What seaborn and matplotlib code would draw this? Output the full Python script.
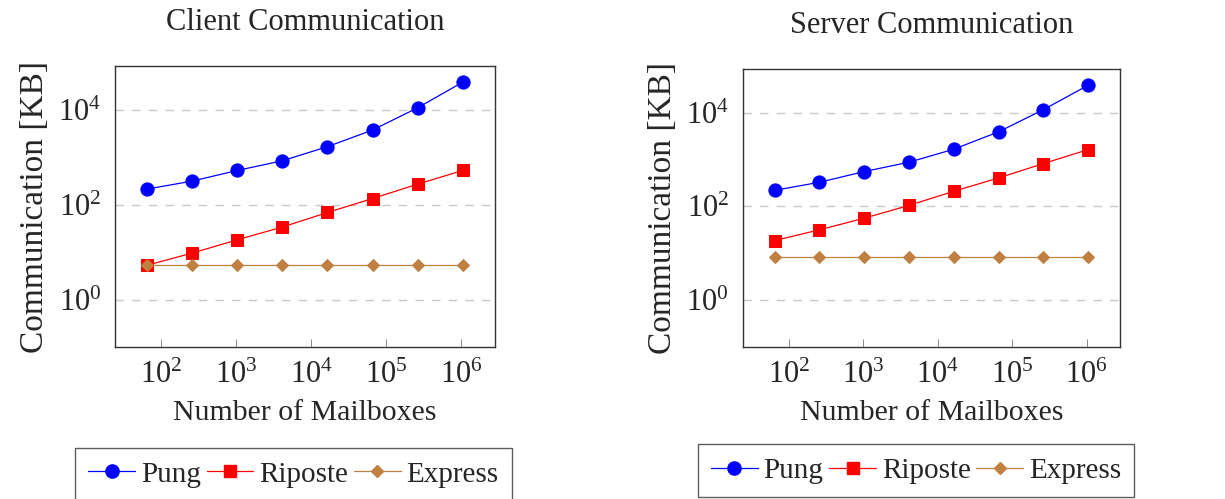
import numpy as np
import pandas as pd
import seaborn as sns
import matplotlib.pyplot as plt
from matplotlib.ticker import FixedLocator, LogFormatterMathtext, NullLocator
from matplotlib.lines import Line2D

# number of mailboxes (powers of 4)
mailboxes = [64, 256, 1024, 4096, 16384, 65536, 262144, 1048576]

# client side communication [KB]
client_pung = [215, 317, 532, 852, 1690, 3800, 11200, 39000]
client_riposte = [5.3, 9.6, 18.3, 34, 69, 136, 274, 532]
client_express = [5.3, 5.3, 5.3, 5.3, 5.3, 5.3, 5.3, 5.3]

# server side communication [KB]
server_pung = [220, 327, 553, 876, 1660, 3900, 11600, 38500]
server_riposte = [18.7, 31.6, 56, 105, 210, 405, 820, 1630]
server_express = [8.5, 8.5, 8.5, 8.5, 8.5, 8.5, 8.5, 8.5]

systems = ["Pung", "Riposte", "Express"]
titles = ["Client Communication", "Server Communication"]

sns.set_style("ticks")
plt.rcParams["font.family"] = ["Liberation Serif", "DejaVu Serif"]
plt.rcParams["mathtext.fontset"] = "stix"

colors = {"Pung": "#0000ff", "Riposte": "#ff0000", "Express": "#bf8040"}
markers = {"Pung": "o", "Riposte": "s", "Express": "D"}
msizes = {"Pung": 9.5, "Riposte": 8.5, "Express": 6.5}

fig = plt.figure(figsize=(12.25, 4.99), dpi=100)
ax1 = fig.add_axes([0.0939, 0.3046, 0.310, 0.563])
ax2 = fig.add_axes([0.6065, 0.3046, 0.3078, 0.557])

panels = [
    (ax1, [client_pung, client_riposte, client_express]),
    (ax2, [server_pung, server_riposte, server_express]),
]

fs = 21
for i, (ax, series) in enumerate(panels):
    rows = []
    for name, vals in zip(systems, series):
        for m, v in zip(mailboxes, vals):
            rows.append({"mailboxes": m, "kb": v, "system": name})
    df = pd.DataFrame(rows)
    for name in systems:
        sub = df[df["system"] == name]
        sns.lineplot(data=sub, x="mailboxes", y="kb", ax=ax, color=colors[name],
                     marker=markers[name], markersize=msizes[name],
                     markeredgecolor=colors[name], linewidth=0.9, legend=False)
    ax.set_xscale("log")
    ax.set_yscale("log")
    ax.set_xlim(24, 2.8e6)
    ax.set_ylim(0.1, 8.5e4)
    ax.xaxis.set_major_locator(FixedLocator([1e2, 1e3, 1e4, 1e5, 1e6]))
    ax.yaxis.set_major_locator(FixedLocator([1, 1e2, 1e4]))
    ax.xaxis.set_major_formatter(LogFormatterMathtext())
    ax.yaxis.set_major_formatter(LogFormatterMathtext())
    ax.xaxis.set_minor_locator(NullLocator())
    ax.yaxis.set_minor_locator(NullLocator())
    ax.tick_params(axis="x", direction="in", length=6, width=0.6, color="#777777",
                   labelsize=fs + 1, pad=10)
    ax.tick_params(axis="y", direction="in", length=0, labelsize=fs + 1, pad=10)
    ax.grid(axis="y", linestyle=(0, (6, 6)), color="#c8c8c8", linewidth=1)
    for s in ax.spines.values():
        s.set_color("#333333")
        s.set_linewidth(1.0)
    ax.set_xlabel("Number of Mailboxes", fontsize=fs + 0.5, labelpad=7)
    ax.set_ylabel("Communication [KB]", fontsize=fs + 3, labelpad=6)
    ax.set_title(titles[i], fontsize=fs + 1, pad=26)

    handles = [Line2D([], [], color=colors[n], marker=markers[n], markersize=msizes[n],
                      markeredgecolor=colors[n], linewidth=0.9) for n in systems]
    leg = ax.legend(handles, systems, ncol=3, loc="upper center",
                    bbox_to_anchor=(0.47 if i == 0 else 0.459, -0.36 if i == 0 else -0.35),
                    fontsize=fs, frameon=True, fancybox=False, handlelength=1.6,
                    handletextpad=0.2, columnspacing=0.2, borderpad=0.45,
                    borderaxespad=0)
    leg.get_frame().set_edgecolor("#333333")
    leg.get_frame().set_linewidth(1.0)

fig.savefig("out.png", dpi=100)
